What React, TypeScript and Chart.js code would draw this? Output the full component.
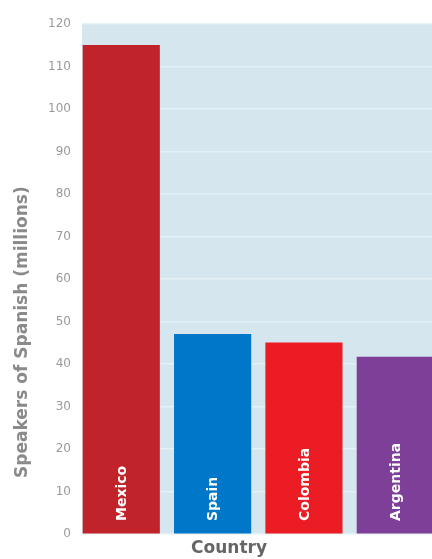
import React, { useEffect, useRef } from "react";
import { Chart, registerables } from "chart.js";

Chart.register(...registerables);

const categories = ["Mexico", "Spain", "Colombia", "Argentina"];
const speakers = [115, 47, 45, 41.6];
const barColors = ["#C1232B", "#0077C8", "#EC1C24", "#7D3F98"];
const yTicks = [0, 10, 20, 30, 40, 50, 60, 70, 80, 90, 100, 110, 120];
const yTitle = "Speakers of Spanish (millions)";
const xTitle = "Country";

const FONT = "'DejaVu Sans', sans-serif";

const decorPlugin = {
  id: "decor",
  beforeDraw(chart: any) {
    const { ctx, chartArea } = chart;
    ctx.save();
    ctx.fillStyle = "#D5E6EE";
    ctx.fillRect(chartArea.left, chartArea.top, chartArea.right - chartArea.left, chartArea.bottom - chartArea.top);
    ctx.restore();
  },
  afterDatasetsDraw(chart: any) {
    const { ctx, chartArea } = chart;
    const yScale = chart.scales.y;
    const meta = chart.getDatasetMeta(0);
    const zero = yScale.getPixelForValue(0);
    ctx.save();
    ctx.fillStyle = "#FFFFFF";
    ctx.font = `bold 14px ${FONT}`;
    ctx.textAlign = "left";
    ctx.textBaseline = "middle";
    meta.data.forEach((bar: any, i: number) => {
      ctx.save();
      ctx.translate(bar.x, zero - 13);
      ctx.rotate(-Math.PI / 2);
      ctx.fillText(categories[i], 0, 1);
      ctx.restore();
    });
    // axis titles
    ctx.fillStyle = "#8A8A8A";
    ctx.font = `bold 17px ${FONT}`;
    ctx.textAlign = "center";
    ctx.save();
    ctx.translate(23, yScale.getPixelForValue(47.5));
    ctx.rotate(-Math.PI / 2);
    ctx.fillText(yTitle, 0, 0);
    ctx.restore();
    ctx.fillStyle = "#666666";
    ctx.fillText(xTitle, chartArea.left + 147, chartArea.bottom + 15);
    ctx.restore();
  },
};

export default function App() {
  const ref = useRef<HTMLCanvasElement | null>(null);
  useEffect(() => {
    document.body.style.margin = "0";
    if (!ref.current) return;
    const chart = new Chart(ref.current, {
      type: "bar",
      data: {
        datasets: [
          {
            data: categories.map((c, i) => ({ x: i + 1, y: speakers[i] })),
            backgroundColor: barColors,
            borderWidth: 0,
            barThickness: 76.5,
          },
        ],
      },
      options: {
        animation: false,
        responsive: false,
        maintainAspectRatio: false,
        layout: { padding: { top: 24, right: 0, bottom: 0, left: 0 } },
        plugins: { legend: { display: false }, tooltip: { enabled: false }, title: { display: false } },
        scales: {
          x: {
            type: "linear",
            min: 0.57,
            max: 4.402,
            offset: false,
            ticks: { display: false },
            grid: { display: false, offset: false },
            border: { display: false },
            afterFit: (s: any) => {
              s.height = 25;
            },
          },
          y: {
            min: 0,
            max: 120,
            afterBuildTicks: (s: any) => {
              s.ticks = yTicks.map((v) => ({ value: v }));
            },
            ticks: {
              color: "#9A9A9A",
              font: { family: FONT, size: 12 },
              padding: 11,
            },
            grid: { color: "#E6F1F5", lineWidth: 1.5, drawTicks: false },
            border: { display: false },
            afterFit: (s: any) => {
              s.width = 82;
            },
          },
        },
      },
      plugins: [decorPlugin],
    });
    return () => chart.destroy();
  }, []);
  return (
    <div style={{ width: 432, height: 559 }}>
      <canvas ref={ref} width={432} height={559} style={{ display: "block" }} />
    </div>
  );
}
